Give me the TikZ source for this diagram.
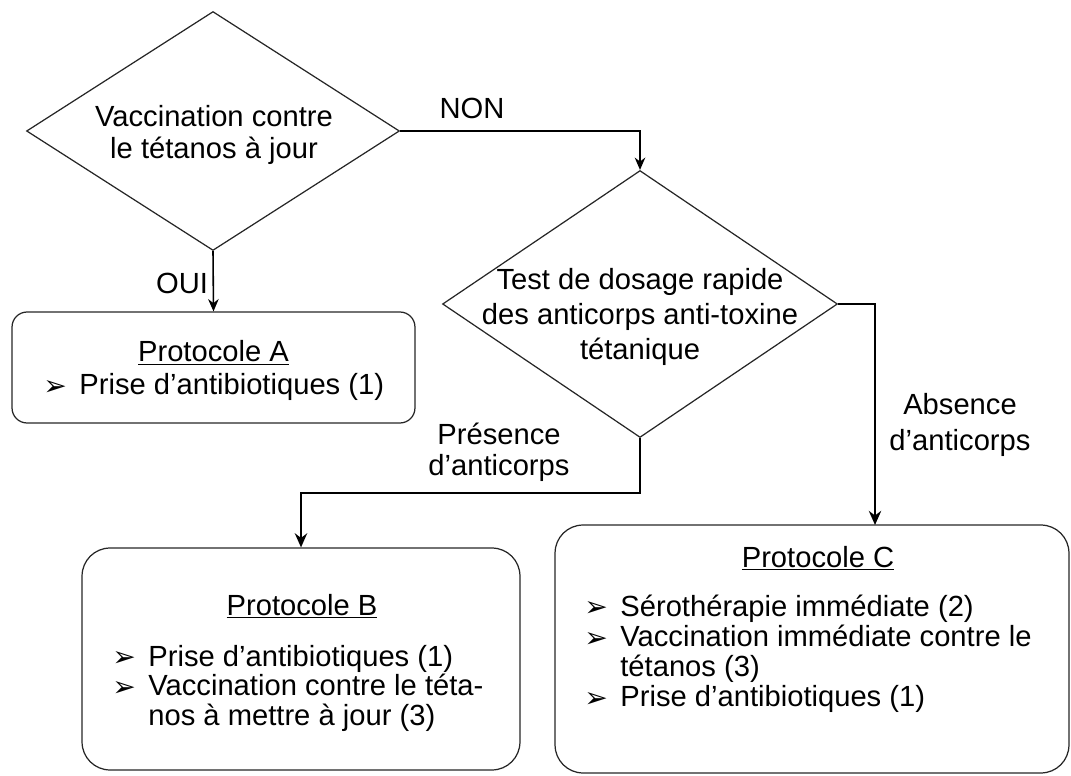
\documentclass[tikz,border=0pt]{standalone}
\usepackage{fontspec}
\setmainfont{Liberation Sans}
\newfontfamily\symbfont{DejaVu Sans}
\usepackage{tikz}
\usetikzlibrary{arrows.meta,shapes.geometric,positioning}

\newcommand{\puce}{\makebox[20.5pt][l]{\raisebox{-0.5pt}{\fontsize{16}{16}\symbfont ➢}}}

\begin{document}
\begin{tikzpicture}[x=0.02cm, y=-0.02cm,
  trait/.style={draw=black!85, line width=0.7pt},
  losange/.style={trait, diamond, inner sep=0pt},
  protocole/.style={trait, rectangle, rounded corners=#1, inner sep=0pt},
  texte/.style={font=\fontsize{16.6}{18}\selectfont, align=center, inner sep=0pt},
  titre/.style={font=\fontsize{16.6}{16}\selectfont, inner sep=0pt, anchor=base},
  liste/.style={font=\fontsize{16.6}{16.5}\selectfont, inner sep=0pt, anchor=base west},
  fleche/.style={draw=black, line width=0.9pt, -{Stealth[length=7pt,width=6pt]}},
  fleche epaisse/.style={draw=black, line width=1.6pt, -{Stealth[length=8pt,width=7pt]}}]
  \useasboundingbox (0,0) rectangle (1071,776);

  % Decisions
  \node[losange, minimum width=7.46cm, minimum height=4.78cm] (vaccin) at (213,131) {};
  \node[texte, font=\fontsize{16.6}{18.2}\selectfont] (vaccin texte) at (214,135)
    {Vaccination contre\\le tétanos à jour};
  \node[losange, minimum width=7.9cm, minimum height=5.34cm] (test) at (640,304) {};
  \node[texte, font=\fontsize{16.6}{20}\selectfont] (test texte) at (640,317)
    {Test de dosage rapide\\des anticorps anti-toxine\\tétanique};

  % Protocole A
  \node[protocole=0.3cm, minimum width=8.06cm, minimum height=2.22cm] (protA) at (213.5,367.5) {};
  \node[titre] (titreA) at (213.5,362) {\underline{Protocole A}};
  \node[liste] (listeA) at (43,395) {\puce Prise d’antibiotiques (1)};

  % Protocole B
  \node[protocole=0.56cm, minimum width=8.76cm, minimum height=4.44cm] (protB) at (301,659) {};
  \node[titre] (titreB) at (302,615) {\underline{Protocole B}};
  \node[liste, font=\fontsize{16.6}{15.4}\selectfont] (listeB) at (112,666)
    {\begin{tabular}[t]{@{}l@{}}
      \puce Prise d’antibiotiques (1)\\
      \puce Vaccination contre le téta-\\
      \hspace{20.5pt}nos à mettre à jour (3)
    \end{tabular}};

  % Protocole C
  \node[protocole=0.56cm, minimum width=10.28cm, minimum height=4.96cm] (protC) at (812,649) {};
  \node[titre] (titreC) at (818,567) {\underline{Protocole C}};
  \node[liste] (listeC) at (584,616)
    {\begin{tabular}[t]{@{}l@{}}
      \puce Sérothérapie immédiate (2)\\
      \puce Vaccination immédiate contre le\\
      \hspace{20.5pt}tétanos (3)\\
      \puce Prise d’antibiotiques (1)
    \end{tabular}};

  % Liens
  \coordinate (coude C) at (875,525);
  \draw[fleche] (vaccin.south) -- (protA.north);
  \draw[fleche] (vaccin.east) -| (test.north);
  \draw[fleche epaisse] (test.south) -- ++(0,55) -| (protB.north);
  \draw[fleche epaisse] (test.east) -| (coude C);

  % Etiquettes
  \node[texte] (oui) at (182,283) {OUI};
  \node[texte] (non) at (472,108) {NON};
  \node[texte, font=\fontsize{16.6}{17.6}\selectfont] (presence) at (499,452) {Présence\\d’anticorps};
  \node[texte, font=\fontsize{16.6}{20}\selectfont] (absence) at (960,425) {Absence\\d’anticorps};
\end{tikzpicture}
\end{document}
